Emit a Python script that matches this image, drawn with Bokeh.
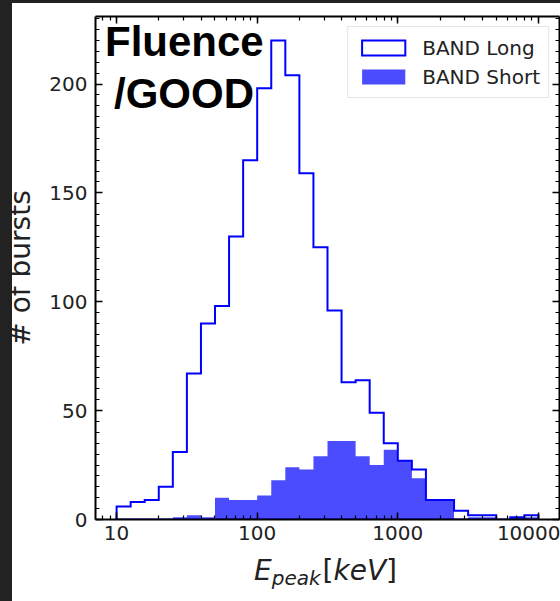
import numpy as np
from bokeh.plotting import figure
from bokeh.layouts import column
from bokeh.models import (Range1d, FixedTicker, LinearAxis, LogAxis, Label,
                          Legend, LegendItem, ColumnDataSource, Div)
from bokeh.embed import file_html
from bokeh.resources import INLINE

# ---------------- data ----------------
# histogram bins: 0.1 dex wide, from 10 keV to 10000 keV
bin_edges = list(10 ** np.linspace(1, 4, 31))
long_counts = [6, 8, 9, 15, 31, 67, 90, 98, 130, 165,
               198, 220, 204, 159, 125, 96, 63, 64, 49, 35,
               27, 23, 9, 9, 4, 2, 2, 0, 1, 2]
short_counts = [0, 0, 0, 0, 1, 2, 1, 10, 9, 9,
                11, 18, 24, 23, 29, 36, 36, 29, 25, 32,
                27, 19, 9, 9, 0, 1, 1, 0, 1, 1]
series_names = ["BAND Long", "BAND Short"]
x_ticks = [10, 100, 1000, 10000]
x_tick_labels = ["10", "100", "1000", "10000"]
x_minor = [m * d for d in [1, 10, 100, 1000, 10000] for m in range(1, 10)]
y_ticks = [0, 50, 100, 150, 200]
y_minor = list(range(0, 235, 5))
title_lines = ["Fluence", "/GOOD"]
y_label = "# of bursts"

# ---------------- figure ----------------
p = figure(width=560, height=554, x_axis_type="log",
           x_range=Range1d(10 ** 0.85, 10 ** 4.15), y_range=Range1d(0, 231),
           output_backend="svg", toolbar_location=None,
           min_border_left=95, min_border_right=1,
           min_border_top=16, min_border_bottom=35)
p.background_fill_color = "white"
p.border_fill_color = "white"
p.xgrid.visible = False
p.ygrid.visible = False
p.outline_line_color = None

xt = FixedTicker(ticks=x_ticks, minor_ticks=x_minor)
yt = FixedTicker(ticks=y_ticks, minor_ticks=y_minor)


def style(ax, ticks, labels=True):
    ax.axis_line_color = "black"
    ax.axis_line_width = 2
    ax.major_tick_in = 7
    ax.major_tick_out = 0
    ax.minor_tick_in = 4
    ax.minor_tick_out = 0
    ax.major_tick_line_color = "black"
    ax.major_tick_line_width = 1.5
    ax.minor_tick_line_color = "black"
    ax.minor_tick_line_width = 1.2
    ax.major_label_text_font = "DejaVu Sans"
    ax.major_label_text_font_size = "20px"
    ax.major_label_text_color = "#222222"
    if not labels:
        ax.major_label_overrides = {t: "" for t in ticks}
        ax.major_label_text_font_size = "1px"
        ax.major_label_standoff = 0
        ax.axis_label = None


xa = p.xaxis[0]
xa.ticker = xt
style(xa, x_ticks)
xa.major_label_overrides = {t: s for t, s in zip(x_ticks, x_tick_labels)}
xa.major_label_standoff = 6

ya = p.yaxis[0]
ya.ticker = yt
style(ya, y_ticks)
ya.major_label_standoff = 8
ya.axis_label = y_label
ya.axis_label_text_font = "DejaVu Sans"
ya.axis_label_text_font_size = "28px"
ya.axis_label_text_font_style = "normal"
ya.axis_label_text_color = "#222222"
ya.axis_label_standoff = 9

top = LogAxis(ticker=xt)
style(top, x_ticks, labels=False)
p.add_layout(top, "above")
right = LinearAxis(ticker=yt)
style(right, y_ticks, labels=False)
p.add_layout(right, "right")

# ---------------- glyphs ----------------
short_src = ColumnDataSource(dict(x=bin_edges, y1=[0] * len(bin_edges),
                                  y2=short_counts + [0]))
short_r = p.varea_step(x="x", y1="y1", y2="y2", step_mode="after",
                       source=short_src, fill_color="blue", fill_alpha=0.7)

# outline of the long-burst histogram (histtype="step")
lx, ly = [bin_edges[0]], [0]
for i, c in enumerate(long_counts):
    lx += [bin_edges[i], bin_edges[i + 1]]
    ly += [c, c]
lx.append(bin_edges[-1])
ly.append(0)
long_r = p.patch(x=lx, y=ly, fill_color=None, line_color="blue",
                 line_width=2, line_join="miter")

legend = Legend(items=[LegendItem(label=series_names[0], renderers=[long_r]),
                       LegendItem(label=series_names[1], renderers=[short_r])],
                location="top_right", glyph_width=54, glyph_height=19,
                label_height=25, label_standoff=12, padding=8, spacing=4,
                margin=10, label_text_font="DejaVu Sans",
                label_text_font_size="20px", label_text_color="#222222",
                border_line_color="#cccccc", border_line_width=1,
                background_fill_alpha=0.8)
p.add_layout(legend)

# ---------------- texts ----------------
p.add_layout(Label(x=9.5, y=478.5, x_units="screen", y_units="screen",
                   text=title_lines[0], text_font="Liberation Sans",
                   text_font_style="bold", text_font_size="42px",
                   text_color="black", text_baseline="alphabetic"))
p.add_layout(Label(x=18.5, y=426.5, x_units="screen", y_units="screen",
                   text=title_lines[1], text_font="Liberation Sans",
                   text_font_style="bold", text_font_size="42px",
                   text_color="black", text_baseline="alphabetic"))

x_label_html = (
    '<div style="padding-left:254px;white-space:nowrap;'
    "font-family:'DejaVu Sans';font-size:28px;line-height:34px;color:#222222;\">"
    '<i>E</i>'
    '<i style="font-size:20px;position:relative;top:4.5px;">peak</i>'
    '<span style="margin-left:2px">[</span>'
    '<i>keV</i>'
    '<span>]</span></div>'
)
x_label_div = Div(text=x_label_html, width=560, height=47, margin=(0, 0, 0, 0))

page = column(p, x_label_div, spacing=0)

html = file_html(page, INLINE, title="Epeak histogram")
html = html.replace(
    "</head>",
    "<style>html, body {background: white; margin: 0; padding: 0;} "
    "body::before {content: ''; position: fixed; left: 0; top: 0; width: 12px; "
    "height: 100%; background: #222222; z-index: 9999;} "
    "body::after {content: ''; position: fixed; left: 0; top: 0; width: 100%; "
    "height: 3px; background: #222222; z-index: 9999;}</style></head>", 1)
open("out.html", "w").write(html)
